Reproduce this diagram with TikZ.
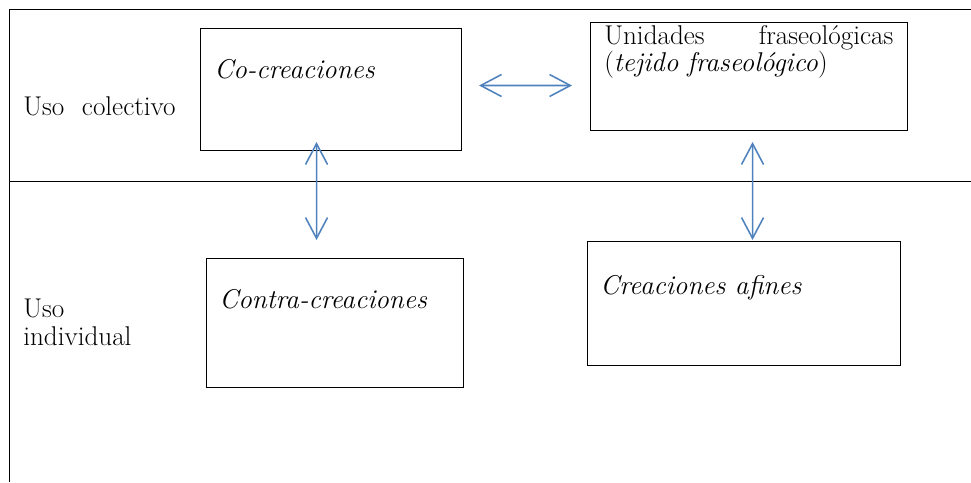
\documentclass[tikz,border=0pt]{standalone}
\usepackage{fontspec}
\usetikzlibrary{arrows.meta}
\definecolor{flecha}{HTML}{4F81BD}
\newcommand\letra{\fontsize{19.3pt}{19.3pt}\selectfont}
\tikzset{
  caja/.style={draw, line width=0.7pt, anchor=north west, inner sep=0pt},
  rotulo/.style={anchor=base west, inner sep=0pt, font=\letra},
  doble/.style={draw=flecha, line width=1.1pt,
    {Straight Barb[length=0.52cm,width=0.55cm]}-{Straight Barb[length=0.52cm,width=0.55cm]}}
}
\begin{document}
\begin{tikzpicture}[x=0.025cm,y=-0.025cm]
                \useasboundingbox (0,0) rectangle (971,482);

                % marco y division
                \draw[line width=0.7pt] (971,9) -- (9,9) -- (9,482);
                \draw[line width=0.7pt] (9,181) -- (971,181);

                \node[rotulo] (colec) at (23,115) {Uso\hspace{0.35em} colectivo};
                \node[rotulo, text width=4cm, align=left, font=\fontsize{19.3pt}{20.4pt}\selectfont] (indiv) at (23,317) {Uso\\individual};

                % cajas
                \node[caja, minimum width=6.525cm, minimum height=3.05cm] (cocre) at (200,28) {};
                \node[caja, minimum width=7.925cm, minimum height=2.7cm] (unid) at (590,22) {};
                \node[caja, minimum width=6.425cm, minimum height=3.225cm] (contra) at (206,258) {};
                \node[caja, minimum width=7.825cm, minimum height=3.1cm] (afines) at (587,241) {};

                \node[rotulo] (tcocre) at (214,78) {\textit{Co-creaciones}};
                \node[rotulo, text width=7.225cm, align=left] (tunid) at (604,44)
                    {Unidades\hfill fraseológicas\\(\textit{tejido fraseológico})};
                \node[rotulo] (tcontra) at (219,308) {\textit{Contra-creaciones}};
                \node[rotulo] (tafines) at (600,294) {\textit{Creaciones afines}};

                % flechas
                \draw[doble] ([shift={(17,-4)}]cocre.east) -- ([shift={(-18,9)}]unid.west);
                \draw[doble] ([shift={(-14.5,-9)}]cocre.south) -- ([shift={(-18.5,-18)}]contra.north);
                \draw[doble] ([shift={(3.5,11)}]unid.south) -- ([shift={(8.5,-1)}]afines.north);

\end{tikzpicture}
\end{document}
